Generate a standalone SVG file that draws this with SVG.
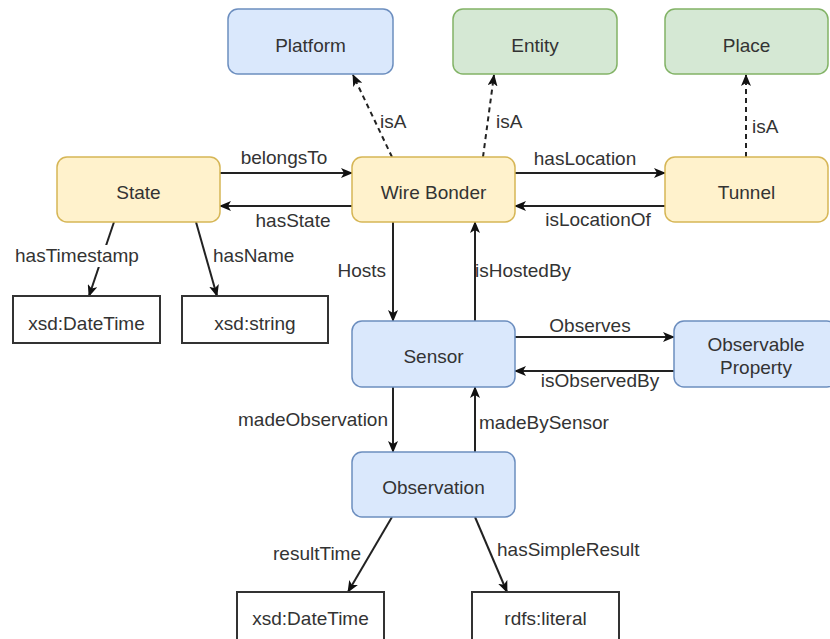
<svg xmlns="http://www.w3.org/2000/svg" width="830" height="639" viewBox="0 0 830 639">
  <style>
    text { font-family: "Liberation Sans", Arial, sans-serif; font-size: 19px; fill: #333333; }
    .node text, .lit text { text-anchor: middle; }
    .blue { fill: #dae8fc; stroke: #6c8ebf; stroke-width: 1.5; }
    .green { fill: #d5e8d4; stroke: #82b366; stroke-width: 1.5; }
    .yellow { fill: #fff2cc; stroke: #d6b656; stroke-width: 1.5; }
    .lit rect { fill: #ffffff; stroke: #333333; stroke-width: 2; }
    .edge { fill: none; stroke: #222222; stroke-width: 2; marker-end: url(#arrow); }
    .dash { stroke-dasharray: 5 4; }
    .mid { text-anchor: middle; }
    .end { text-anchor: end; }
  </style>
  <defs>
    <marker id="arrow" viewBox="0 0 12 10" refX="11" refY="5" markerWidth="12" markerHeight="10" markerUnits="userSpaceOnUse" orient="auto">
      <path d="M0,0 L12,5 L0,10 L3,5 Z" fill="#111111"/>
    </marker>
  </defs>
  <rect width="830" height="639" fill="#ffffff"/>

  <!-- connectors -->
  <g id="connectors">
    <path class="edge dash" d="M392,157 L353,75"/>
    <path class="edge dash" d="M483,157 L494,75"/>
    <path class="edge dash" d="M746,157 L746,75"/>
    <path class="edge" d="M220,173 L352,173"/>
    <path class="edge" d="M352,206 L220,206"/>
    <path class="edge" d="M515,173 L665,173"/>
    <path class="edge" d="M665,206 L515,206"/>
    <path class="edge" d="M114,222 L89,296"/>
    <path class="edge" d="M196,222 L217,296"/>
    <path class="edge" d="M393,222 L393,321"/>
    <path class="edge" d="M475,321 L475,222"/>
    <path class="edge" d="M515,337 L674,337"/>
    <path class="edge" d="M674,371 L515,371"/>
    <path class="edge" d="M393,387 L393,452"/>
    <path class="edge" d="M475,452 L475,387"/>
    <path class="edge" d="M392,517 L348,592"/>
    <path class="edge" d="M475,517 L507,592"/>

    <!-- label backing where a label sits on its line -->
    <rect x="13" y="245" width="127" height="22" fill="#ffffff"/>

    <text x="380" y="128">isA</text>
    <text x="496" y="128">isA</text>
    <text x="752" y="133">isA</text>
    <text class="mid" x="284" y="164">belongsTo</text>
    <text class="mid" x="293" y="227">hasState</text>
    <text class="mid" x="585" y="165">hasLocation</text>
    <text class="mid" x="598" y="226">isLocationOf</text>
    <text class="mid" x="77" y="262">hasTimestamp</text>
    <text x="213" y="262">hasName</text>
    <text class="end" x="386" y="277">Hosts</text>
    <text x="475" y="277">isHostedBy</text>
    <text class="mid" x="590" y="332">Observes</text>
    <text class="mid" x="600" y="387">isObservedBy</text>
    <text class="end" x="388" y="426">madeObservation</text>
    <text x="479" y="429">madeBySensor</text>
    <text class="end" x="361" y="560">resultTime</text>
    <text x="497" y="556">hasSimpleResult</text>
  </g>

  <!-- class nodes -->
  <g id="platform" class="node">
    <rect class="blue" x="228" y="9" width="165" height="65" rx="10"/>
    <text x="310.5" y="52">Platform</text>
  </g>
  <g id="entity" class="node">
    <rect class="green" x="453" y="9" width="164" height="65" rx="10"/>
    <text x="535" y="52">Entity</text>
  </g>
  <g id="place" class="node">
    <rect class="green" x="665" y="9" width="163" height="65" rx="10"/>
    <text x="746.5" y="52">Place</text>
  </g>
  <g id="state" class="node">
    <rect class="yellow" x="57" y="157" width="163" height="65" rx="10"/>
    <text x="138.5" y="199">State</text>
  </g>
  <g id="wire-bonder" class="node">
    <rect class="yellow" x="352" y="157" width="163" height="65" rx="10"/>
    <text x="433.5" y="199">Wire Bonder</text>
  </g>
  <g id="tunnel" class="node">
    <rect class="yellow" x="665" y="157" width="163" height="65" rx="10"/>
    <text x="746.5" y="199">Tunnel</text>
  </g>
  <g id="sensor" class="node">
    <rect class="blue" x="352" y="321" width="163" height="66" rx="10"/>
    <text x="433.5" y="363">Sensor</text>
  </g>
  <g id="observable-property" class="node">
    <rect class="blue" x="674" y="321" width="163" height="66" rx="10"/>
    <text x="756" y="351">Observable</text>
    <text x="756" y="374">Property</text>
  </g>
  <g id="observation" class="node">
    <rect class="blue" x="352" y="452" width="163" height="65" rx="10"/>
    <text x="433.5" y="494">Observation</text>
  </g>

  <!-- literal nodes -->
  <g id="state-timestamp" class="lit">
    <rect x="13" y="296" width="147" height="47"/>
    <text x="86.5" y="330">xsd:DateTime</text>
  </g>
  <g id="state-name" class="lit">
    <rect x="182" y="296" width="146" height="47"/>
    <text x="255" y="330">xsd:string</text>
  </g>
  <g id="result-time" class="lit">
    <rect x="237" y="592" width="147" height="50"/>
    <text x="310.5" y="625">xsd:DateTime</text>
  </g>
  <g id="simple-result" class="lit">
    <rect x="472" y="592" width="147" height="50"/>
    <text x="545.5" y="625">rdfs:literal</text>
  </g>
</svg>
